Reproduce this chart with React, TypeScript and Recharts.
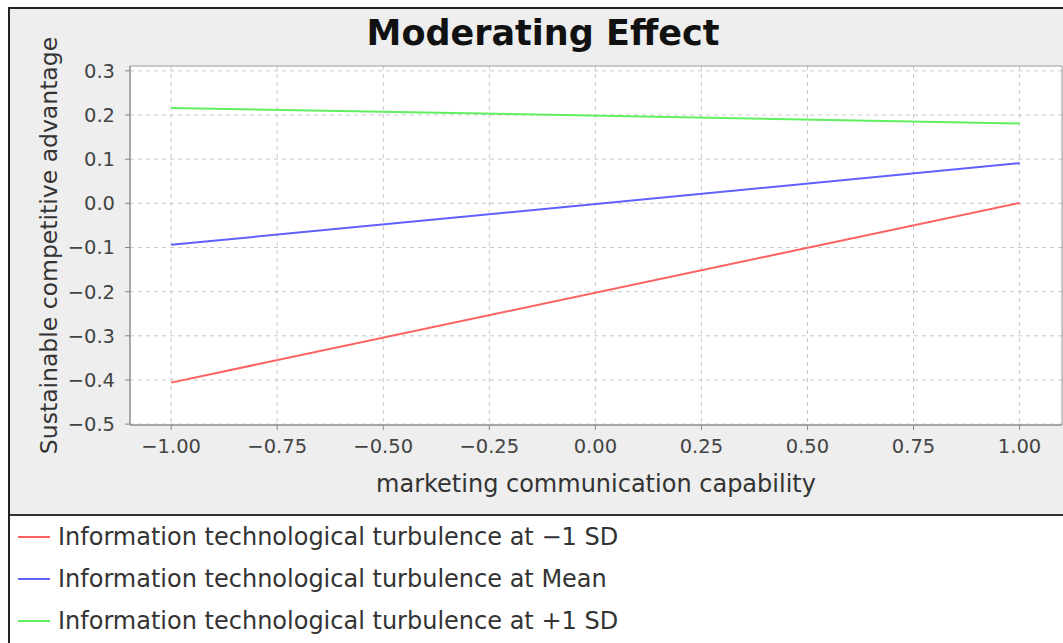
import { LineChart, Line, XAxis, YAxis, CartesianGrid, ReferenceArea } from 'recharts';

const X_VALUES = [-1, 1];
const LOW_SD = [-0.406, 0.001];
const MEAN = [-0.094, 0.091];
const HIGH_SD = [0.216, 0.181];

const X_TICKS = [-1, -0.75, -0.5, -0.25, 0, 0.25, 0.5, 0.75, 1];
const Y_TICKS = [-0.5, -0.4, -0.3, -0.2, -0.1, 0, 0.1, 0.2, 0.3];

const SERIES = [
  { key: 'low', name: 'Information technological turbulence at \u22121 SD', color: '#ff6060' },
  { key: 'mean', name: 'Information technological turbulence at Mean', color: '#6060ff' },
  { key: 'high', name: 'Information technological turbulence at +1 SD', color: '#5ef05e' },
];

const data = X_VALUES.map((x, i) => ({ x, low: LOW_SD[i], mean: MEAN[i], high: HIGH_SD[i] }));

const FONT = '"DejaVu Sans", sans-serif';
const minus = (s: string) => s.replace('-', '\u2212');

const YLabel = ({ viewBox }: any) => {
  const cx = viewBox.x + 39;
  const cy = viewBox.y + viewBox.height / 2;
  return (
    <text
      x={cx}
      y={cy}
      transform={`rotate(-90, ${cx}, ${cy})`}
      textAnchor="middle"
      dominantBaseline="central"
      fontSize={23.5}
      fontFamily={FONT}
      fill="#333"
    >
      Sustainable competitive advantage
    </text>
  );
};

export default function App() {
  const tickStyle = { fontSize: 19.5, fill: '#444', fontFamily: FONT };
  return (
    <div style={{ position: 'relative', width: 1063, height: 643, overflow: 'hidden', background: '#fff' }}>
      <style>{'body{margin:0;overflow:hidden}'}</style>
      <div
        style={{
          position: 'absolute',
          left: 8,
          top: 7,
          width: 1070,
          height: 650,
          borderTop: '2px solid #222',
          borderLeft: '2px solid #222',
          background: '#fff',
        }}
      />
      <div style={{ position: 'absolute', left: 10, top: 9, width: 1060, height: 505, background: '#eeeeee', borderBottom: '2px solid #333' }} />
      <div
        style={{
          position: 'absolute',
          left: 293,
          top: 13,
          width: 500,
          textAlign: 'center',
          fontFamily: FONT,
          fontWeight: 'bold',
          fontSize: 35,
          color: '#111',
        }}
      >
        Moderating Effect
      </div>
      <div style={{ position: 'absolute', left: 10, top: 9 }}>
        <LineChart width={1053} height={505} data={data} margin={{ top: 57, right: 1, bottom: 19, left: 0 }}>
          <CartesianGrid fill="#fff" stroke="#c8c8c8" strokeDasharray="4 4" horizontalValues={Y_TICKS} verticalValues={X_TICKS} />
          <XAxis
            type="number"
            dataKey="x"
            domain={[-1.097, 1.1]}
            allowDataOverflow
            ticks={X_TICKS}
            tickFormatter={(v: number) => minus(v.toFixed(2))}
            tick={tickStyle}
            tickSize={5}
            tickMargin={9}
            stroke="#888"
            height={70}
            label={{
              value: 'marketing communication capability',
              position: 'insideBottom',
              offset: 3,
              style: { fontSize: 24, fill: '#333', fontFamily: FONT },
            }}
          />
          <YAxis
            type="number"
            domain={[-0.502, 0.311]}
            allowDataOverflow
            ticks={Y_TICKS}
            tickFormatter={(v: number) => minus(v.toFixed(1))}
            tick={tickStyle}
            tickSize={5}
            tickMargin={10}
            stroke="#888"
            width={120}
            label={<YLabel />}
          />
          <ReferenceArea x1={-1.097} x2={1.1} y1={-0.502} y2={0.311} fill="none" stroke="#999" strokeWidth={1} />
          {SERIES.map((s) => (
            <Line
              key={s.key}
              type="linear"
              dataKey={s.key}
              name={s.name}
              stroke={s.color}
              strokeWidth={2}
              dot={false}
              isAnimationActive={false}
            />
          ))}
        </LineChart>
      </div>
      {SERIES.map((s, i) => (
        <div
          key={s.key}
          style={{
            position: 'absolute',
            left: 18,
            top: 537 + i * 42 - 16,
            height: 32,
            display: 'flex',
            alignItems: 'center',
            fontFamily: FONT,
            fontSize: 24,
            color: '#333',
            whiteSpace: 'nowrap',
          }}
        >
          <span style={{ display: 'inline-block', width: 32, height: 2, background: s.color, marginRight: 8 }} />
          {s.name}
        </div>
      ))}
    </div>
  );
}
